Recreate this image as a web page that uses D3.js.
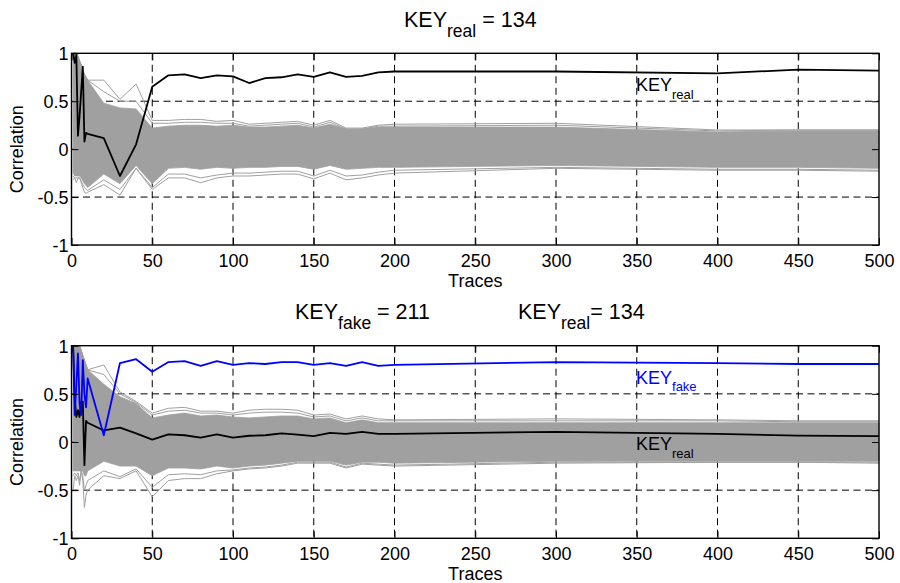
<!DOCTYPE html>
<html>
<head>
<meta charset="utf-8">
<script src="https://cdn.jsdelivr.net/npm/d3@7"></script>
<style>
body { margin: 0; background: #fff; }
svg { display: block; font-family: "Liberation Sans", Arial, sans-serif; }
</style>
</head>
<body>
<script>
// number of traces at which the correlation was evaluated
var traces = [1,2,3,4,5,6,7,8,9,10,20,30,40,50,60,70,80,90,100,110,120,130,140,150,160,170,180,190,200,300,400,450,500];
var xTicks = [0,50,100,150,200,250,300,350,400,450,500];
var yTicks = [-1,-0.5,0,0.5,1];

// top panel: correct key, dense band of wrong guesses (envelope) + outer wrong guesses
var topReal = [1.0,0.9,0.98,0.14,0.35,0.6,0.86,0.08,0.17,0.16, 0.115,-0.28,0.05,0.65,0.77,0.78,0.74,0.77,0.76,0.69,0.74,0.75,0.78,0.755,0.80,0.755,0.765,0.80,0.81,0.81,0.79,0.83,0.82];
var topBandHi = [1.0,1.0,1.0,0.97,0.92,0.88,0.82,0.78,0.75,0.72, 0.48,0.43,0.42,0.22,0.24,0.25,0.25,0.24,0.25,0.23,0.23,0.24,0.25,0.22,0.26,0.21,0.21,0.23,0.23,0.23,0.18,0.19,0.19];
var topBandLo = [-0.25,-0.28,-0.28,-0.28,-0.28,-0.3,-0.33,-0.36,-0.38,-0.4, -0.26,-0.36,-0.17,-0.36,-0.2,-0.19,-0.21,-0.19,-0.2,-0.19,-0.19,-0.18,-0.18,-0.21,-0.17,-0.21,-0.2,-0.19,-0.19,-0.17,-0.19,-0.19,-0.2];
var topHi1 = [1.0,1.0,1.0,0.97,0.92,0.88,0.82,0.78,0.75,0.72, 0.72,0.52,0.68,0.30,0.30,0.31,0.31,0.29,0.30,0.26,0.27,0.28,0.29,0.25,0.30,0.22,0.22,0.25,0.26,0.27,0.20,0.20,0.20];
var topHi2 = [1.0,1.0,1.0,0.97,0.92,0.88,0.82,0.78,0.75,0.72, 0.60,0.50,0.50,0.27,0.27,0.28,0.28,0.27,0.27,0.24,0.25,0.26,0.27,0.23,0.28,0.21,0.21,0.24,0.24,0.25,0.19,0.20,0.20];
var topLo1 = [-0.32,-0.3,-0.35,-0.3,-0.3,-0.35,-0.4,-0.45,-0.46,-0.45, -0.37,-0.48,-0.2,-0.42,-0.3,-0.3,-0.35,-0.3,-0.28,-0.28,-0.27,-0.26,-0.26,-0.31,-0.25,-0.32,-0.3,-0.27,-0.25,-0.2,-0.22,-0.22,-0.23];
var topLo2 = [-0.28,-0.3,-0.3,-0.3,-0.3,-0.33,-0.37,-0.4,-0.42,-0.43, -0.32,-0.42,-0.2,-0.4,-0.26,-0.26,-0.3,-0.27,-0.25,-0.25,-0.24,-0.23,-0.23,-0.28,-0.22,-0.28,-0.27,-0.24,-0.22,-0.19,-0.21,-0.21,-0.22];

// bottom panel: fake key wins, real key inside the band
var botFake = [1.0,0.28,0.6,0.92,0.4,0.28,0.85,0.5,0.36,0.66, 0.07,0.82,0.86,0.73,0.83,0.84,0.79,0.84,0.80,0.82,0.81,0.83,0.83,0.80,0.82,0.79,0.83,0.79,0.80,0.83,0.82,0.81,0.81];
var botReal = [1.0,0.45,0.26,0.33,0.26,0.42,0.42,-0.24,0.22,0.2, 0.12,0.15,0.09,0.025,0.08,0.07,0.045,0.08,0.045,0.065,0.07,0.09,0.077,0.06,0.095,0.085,0.105,0.085,0.085,0.105,0.085,0.066,0.06];
var botBandHi = [1.0,1.0,1.0,1.0,1.0,0.95,0.9,0.85,0.8,0.75, 0.6,0.47,0.4,0.25,0.28,0.3,0.27,0.28,0.26,0.25,0.26,0.27,0.27,0.24,0.25,0.2,0.23,0.2,0.2,0.2,0.2,0.2,0.2];
var botBandLo = [-0.3,-0.3,-0.3,-0.3,-0.3,-0.3,-0.3,-0.35,-0.35,-0.3, -0.2,-0.25,-0.25,-0.35,-0.27,-0.27,-0.28,-0.25,-0.27,-0.25,-0.24,-0.22,-0.2,-0.2,-0.2,-0.24,-0.21,-0.21,-0.22,-0.2,-0.2,-0.2,-0.2];
var botHi1 = [1.0,1.0,1.0,1.0,1.0,0.95,0.9,0.85,0.8,0.75, 0.8,0.52,0.42,0.3,0.35,0.36,0.32,0.32,0.3,0.33,0.34,0.34,0.33,0.28,0.29,0.24,0.27,0.24,0.23,0.24,0.23,0.22,0.22];
var botHi2 = [1.0,1.0,1.0,1.0,1.0,0.95,0.9,0.85,0.8,0.75, 0.7,0.5,0.41,0.28,0.32,0.33,0.3,0.3,0.28,0.3,0.31,0.31,0.3,0.26,0.27,0.22,0.25,0.22,0.22,0.22,0.22,0.21,0.21];
var botLo1 = [-0.5,-0.35,-0.4,-0.35,-0.45,-0.3,-0.4,-0.68,-0.55,-0.5, -0.35,-0.38,-0.3,-0.57,-0.4,-0.38,-0.38,-0.33,-0.3,-0.28,-0.27,-0.25,-0.22,-0.22,-0.22,-0.27,-0.23,-0.24,-0.25,-0.22,-0.21,-0.21,-0.22];
var botLo2 = [-0.35,-0.32,-0.35,-0.32,-0.4,-0.3,-0.35,-0.5,-0.45,-0.4, -0.3,-0.36,-0.28,-0.47,-0.34,-0.33,-0.34,-0.3,-0.29,-0.27,-0.26,-0.24,-0.21,-0.21,-0.21,-0.26,-0.22,-0.23,-0.24,-0.21,-0.21,-0.21,-0.21];

var grey = '#a0a0a0';

var svg = d3.select('body').append('svg')
	.attr('width', 900)
	.attr('height', 583);

var panels = [
	{
		top: 53.3, bottom: 245,
		hi: topBandHi, lo: topBandLo,
		greys: [topHi1, topHi2, topLo1, topLo2],
		keys: [{values: topReal, color: '#000'}],
		labels: [{text: 'KEY', sub: 'real', color: '#000', x: 636, y: 91}],
		titles: [{x: 404, anchor: 'start', parts: ['KEY', 'real', ' = 134']}]
	},
	{
		top: 345.7, bottom: 538.3,
		hi: botBandHi, lo: botBandLo,
		greys: [botHi1, botHi2, botLo1, botLo2],
		keys: [{values: botReal, color: '#000'}, {values: botFake, color: '#0000ff'}],
		labels: [
			{text: 'KEY', sub: 'fake', color: '#0000ff', x: 636, y: 383.5},
			{text: 'KEY', sub: 'real', color: '#000', x: 636, y: 450}
		],
		titles: [
			{x: 295, anchor: 'start', parts: ['KEY', 'fake', ' = 211']},
			{x: 518, anchor: 'start', parts: ['KEY', 'real', '= 134']}
		]
	}
];

panels.forEach(function(p) {
	var x = d3.scaleLinear().domain([0, 500]).range([71.5, 879]);
	var y = d3.scaleLinear().domain([-1, 1]).range([p.bottom, p.top]);
	var g = svg.append('g');

	// dashed grid, behind the data
	g.append('g').selectAll('line')
		.data(xTicks.filter(function(d) { return d > 0 && d < 500; }))
		.enter().append('line')
		.attr('x1', function(d) { return x(d); })
		.attr('x2', function(d) { return x(d); })
		.attr('y1', y(1)).attr('y2', y(-1))
		.attr('stroke', '#000')
		.attr('stroke-dasharray', '7,4.5');
	g.append('g').selectAll('line')
		.data([-0.5, 0, 0.5])
		.enter().append('line')
		.attr('x1', x(0)).attr('x2', x(500))
		.attr('y1', function(d) { return y(d); })
		.attr('y2', function(d) { return y(d); })
		.attr('stroke', '#000')
		.attr('stroke-dasharray', '7,4.5');

	// band of wrong key guesses
	var area = d3.area()
		.x(function(d, i) { return x(traces[i]); })
		.y0(function(d, i) { return y(p.lo[i]); })
		.y1(function(d) { return y(d); });
	g.append('path').datum(p.hi)
		.attr('d', area)
		.attr('fill', grey)
		.attr('stroke', grey)
		.attr('stroke-width', 0.8);

	var line = d3.line()
		.x(function(d, i) { return x(traces[i]); })
		.y(function(d) { return y(d); });

	g.selectAll('path.guess')
		.data(p.greys)
		.enter().append('path')
		.attr('class', 'guess')
		.attr('d', line)
		.attr('fill', 'none')
		.attr('stroke', grey)
		.attr('stroke-width', 1);

	g.selectAll('path.key')
		.data(p.keys)
		.enter().append('path')
		.attr('class', 'key')
		.attr('d', function(d) { return line(d.values); })
		.attr('fill', 'none')
		.attr('stroke', function(d) { return d.color; })
		.attr('stroke-width', 1.8)
		.attr('stroke-linejoin', 'round');

	// axes: ticks point inwards, labels only on left and bottom
	var fmt = function(d) { return String(d); };
	var bottomAxis = g.append('g')
		.attr('transform', 'translate(0,' + y(-1) + ')')
		.call(d3.axisBottom(x).tickValues(xTicks).tickSize(-7).tickPadding(9).tickFormat(fmt));
	var leftAxis = g.append('g')
		.attr('transform', 'translate(' + x(0) + ',0)')
		.call(d3.axisLeft(y).tickValues(yTicks).tickSize(-7).tickPadding(3).tickFormat(fmt));
	g.append('g')
		.attr('transform', 'translate(0,' + y(1) + ')')
		.call(d3.axisTop(x).tickValues(xTicks).tickSize(-7).tickFormat(''));
	g.append('g')
		.attr('transform', 'translate(' + x(500) + ',0)')
		.call(d3.axisRight(y).tickValues(yTicks).tickSize(-7).tickFormat(''));

	g.selectAll('.domain').remove();
	g.selectAll('.tick line').attr('stroke', '#000');
	[bottomAxis, leftAxis].forEach(function(a) {
		a.attr('font-size', 18)
			.attr('font-family', '"Liberation Sans", Arial, sans-serif');
		a.selectAll('text').attr('fill', '#000');
	});
	leftAxis.selectAll('text').attr('dy', '0.36em');

	g.append('rect')
		.attr('x', x(0)).attr('y', y(1))
		.attr('width', x(500) - x(0))
		.attr('height', y(-1) - y(1))
		.attr('fill', 'none')
		.attr('stroke', '#000')
		.attr('stroke-width', 1.4);

	g.append('text')
		.attr('x', (x(0) + x(500)) / 2)
		.attr('y', y(-1) + 42)
		.attr('text-anchor', 'middle')
		.attr('font-size', 18)
		.text('Traces');

	g.append('text')
		.attr('transform', 'translate(23,' + y(0) + ')rotate(-90)')
		.attr('text-anchor', 'middle')
		.attr('font-size', 18)
		.text('Correlation');

	// in-plot key labels
	p.labels.forEach(function(l) {
		var t = g.append('text')
			.attr('x', l.x).attr('y', l.y)
			.attr('fill', l.color)
			.attr('font-size', 18);
		t.append('tspan').text(l.text);
		t.append('tspan').attr('dy', 7.5).attr('font-size', 13).text(l.sub);
	});

	// titles
	p.titles.forEach(function(tt) {
		var t = g.append('text')
			.attr('x', tt.x).attr('y', y(1) - 26.6)
			.attr('text-anchor', tt.anchor)
			.attr('font-size', 21.5);
		t.append('tspan').text(tt.parts[0]);
		t.append('tspan').attr('dy', 10).attr('font-size', 17.5).text(tt.parts[1]);
		t.append('tspan').attr('dy', -10).text(tt.parts[2]);
	});
});
</script>
</body>
</html>
